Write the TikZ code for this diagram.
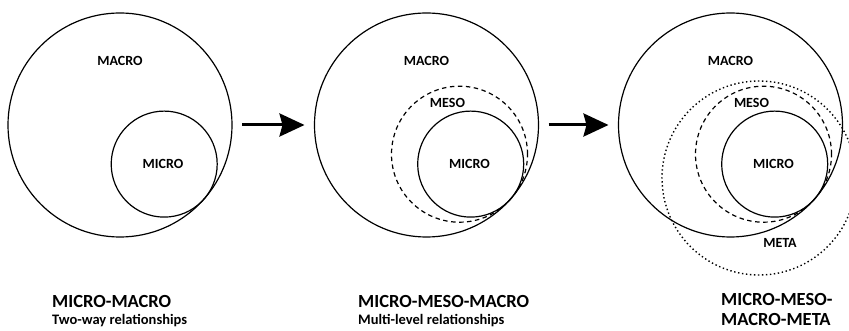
\documentclass[tikz,border=0pt]{standalone}
\usepackage{fontspec}
\setmainfont{Carlito}
\usetikzlibrary{arrows.meta}

\tikzset{
  ring/.style={circle, draw, line width=1.2pt, inner sep=0pt, outer sep=0pt},
  lbl/.style={font=\bfseries\fontsize{14}{16}\selectfont},
  headline/.style={anchor=west, inner sep=0pt, font=\bfseries\fontsize{18.5}{20}\selectfont},
  subline/.style={anchor=west, inner sep=0pt, font=\bfseries\fontsize{14.5}{16}\selectfont},
  stepto/.style={line width=3pt, -{Stealth[length=25pt, width=23pt, inset=3pt]},
    shorten <=10pt, shorten >=10pt},
}

\begin{document}
\begin{tikzpicture}[x=1pt, y=-1pt]
    \useasboundingbox (0,0) rectangle (849,331);
    \clip (0,0) rectangle (849,331);
    % three panels: macro with micro inside
    \foreach [count=\i] \cx in {120, 426.5, 730.5} {
      \node[ring, minimum size=224pt] (macro\i) at (\cx,125) {};
      \node[lbl] (macrolbl\i) at (\cx,61) {MACRO};
      \node[ring, minimum size=106pt] (micro\i) at (\cx+44.2,164.1) {};
      \node[lbl] (microlbl\i) at (\cx+43,164) {MICRO};
    }
    % meso level
    \foreach [count=\i from 2] \cx in {426.5, 730.5} {
      \node[ring, minimum size=136pt, dash pattern=on 4.5pt off 3.5pt] (meso\i) at (\cx+33,154.2) {};
      \node[lbl] (mesolbl\i) at (\cx+21,103) {MESO};
    }
    % meta level
    \node[ring, minimum size=194pt, line width=1.4pt, dash pattern=on 1.4pt off 2.6pt] (meta) at (759,178) {};
    \node[lbl] (metalbl) at (780,243) {META};
    \draw[stepto] (macro1.east) -- (macro2.west);
    \draw[stepto] (macro2.east) -- (macro3.west);
    % captions
    \node[headline] (cap1) at (52,301) {MICRO-MACRO};
    \node[subline] (sub1) at (52,320.5) {Two-way relationships};
    \node[headline] (cap2) at (358,301) {MICRO-MESO-MACRO};
    \node[subline] (sub2) at (358,320.5) {Multi-level relationships};
    \node[headline] (cap3a) at (721,299) {MICRO-MESO-};
    \node[headline] (cap3b) at (721,319) {MACRO-META};
\end{tikzpicture}
\end{document}
